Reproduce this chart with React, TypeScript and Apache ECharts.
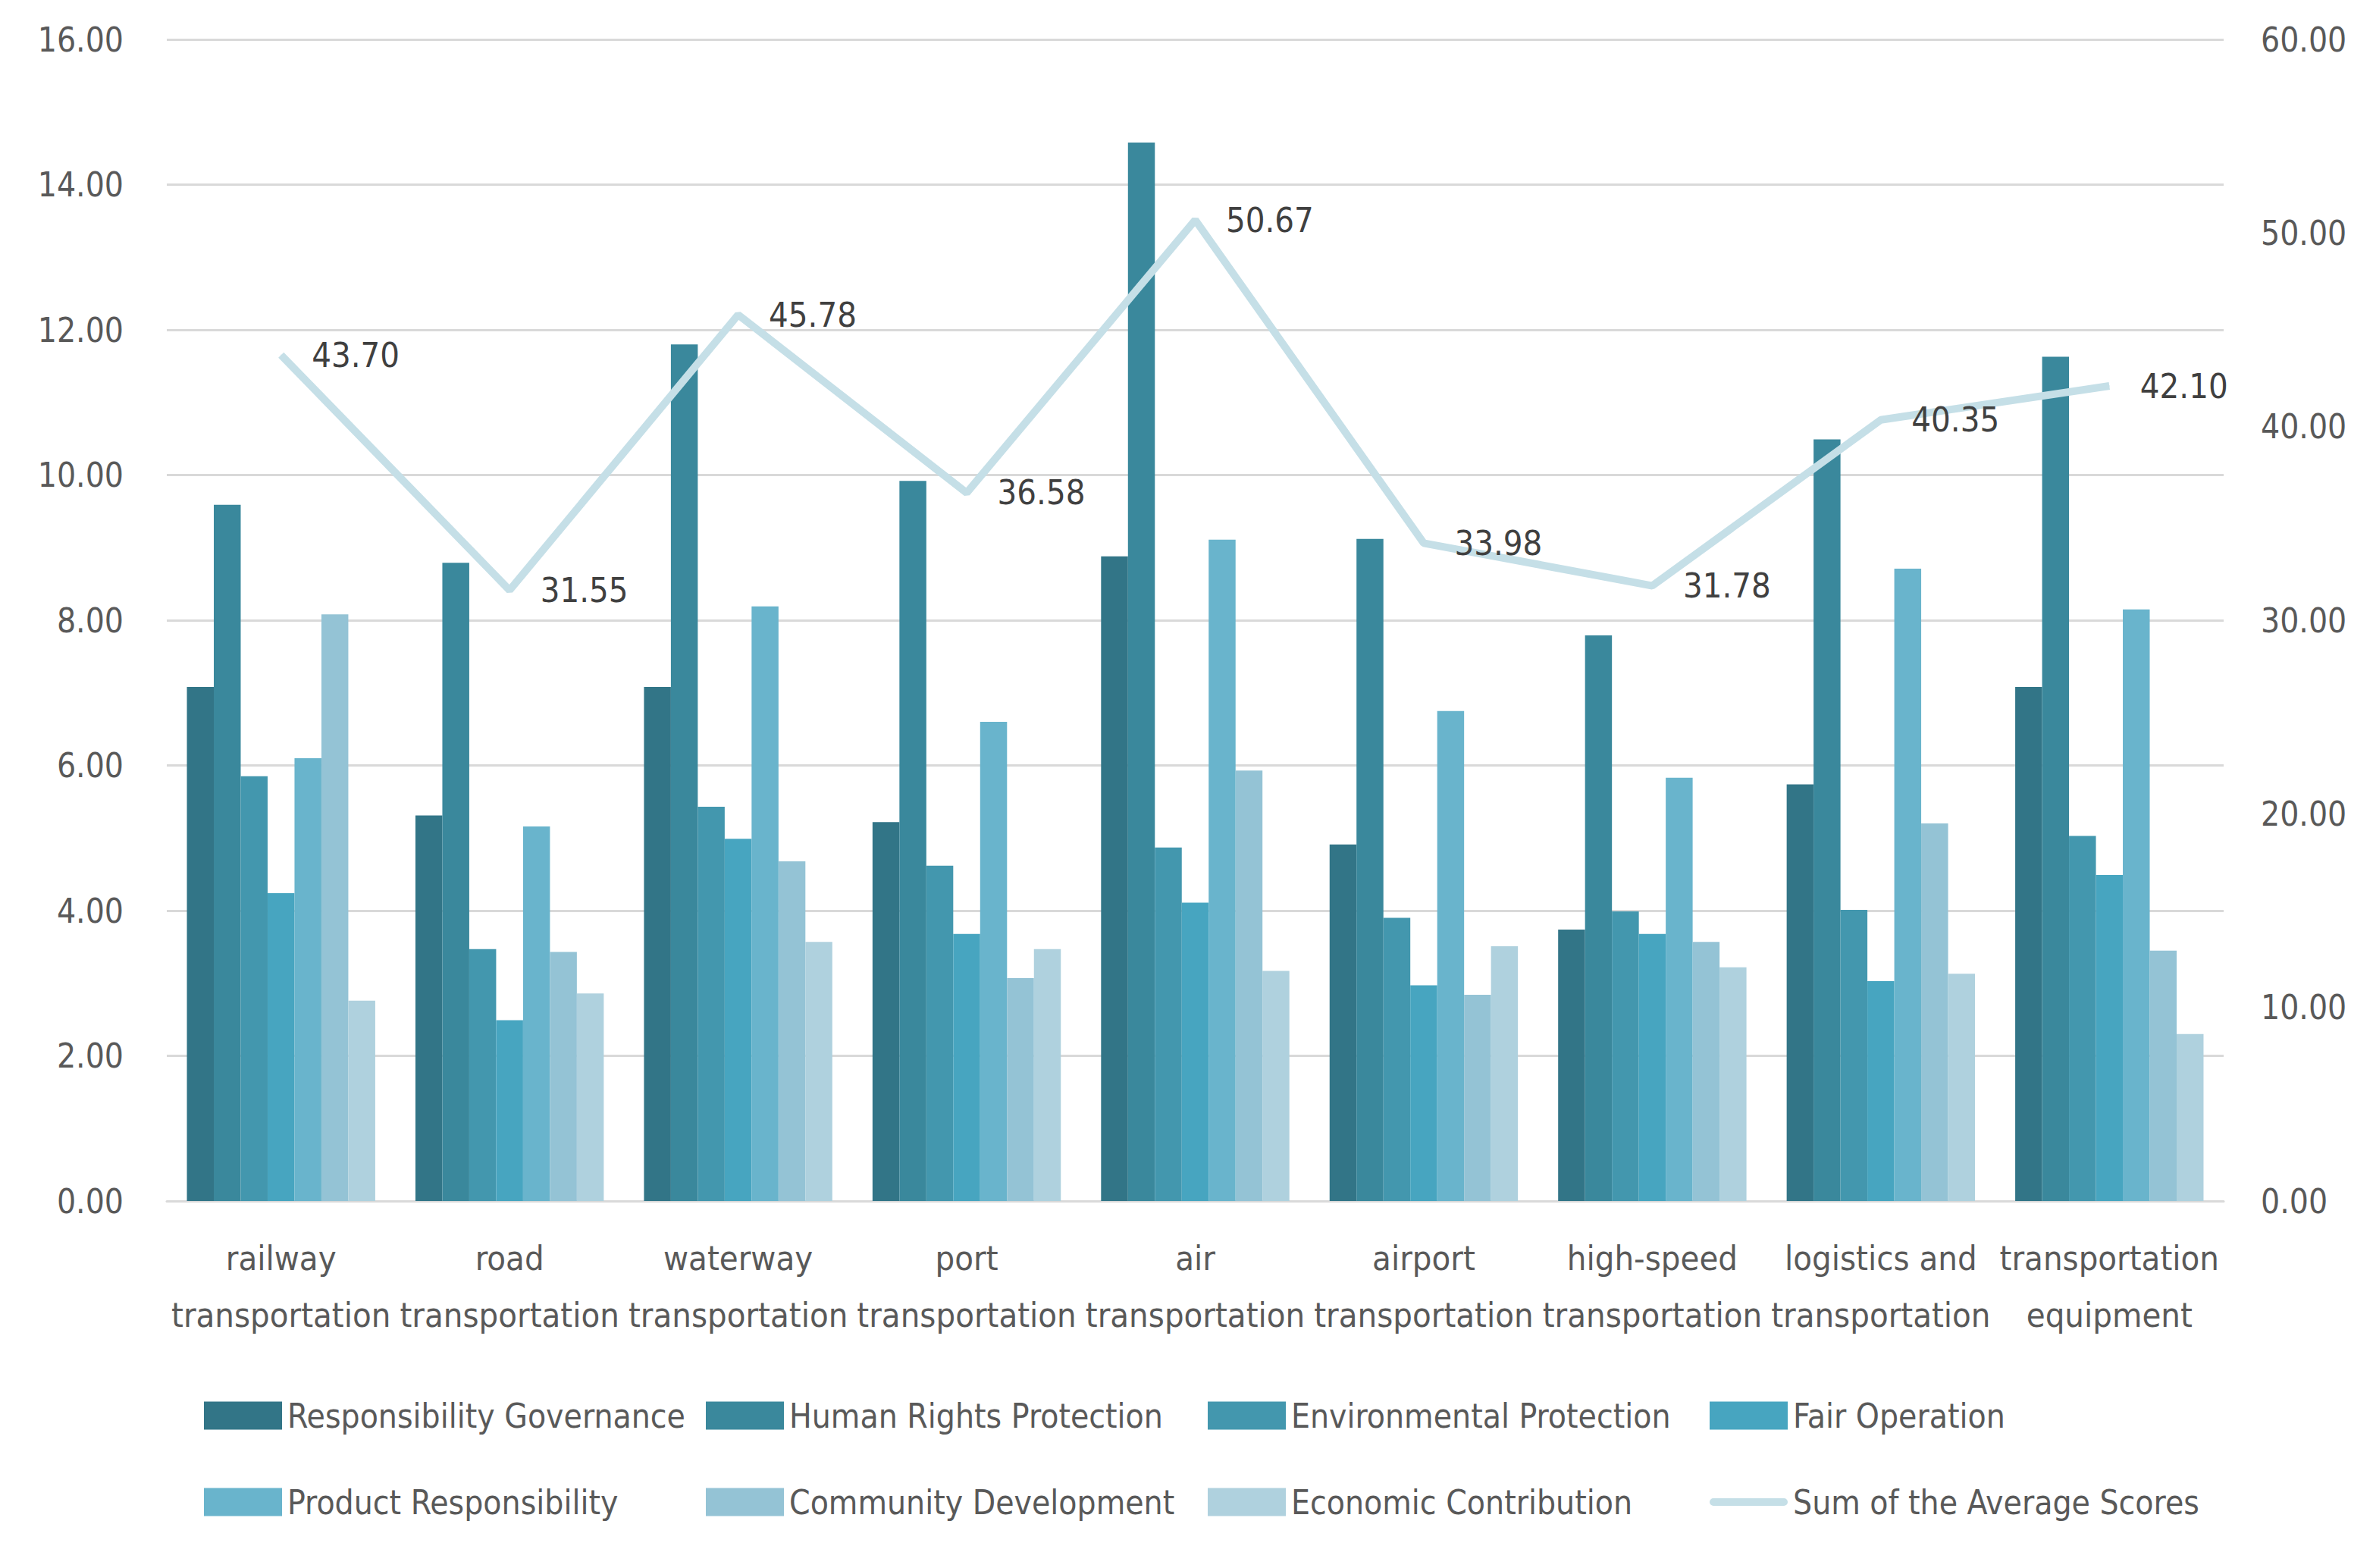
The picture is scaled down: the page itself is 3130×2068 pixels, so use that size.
import React, { useEffect, useRef } from "react";
import * as echarts from "echarts";

const categories = [
  "railway\ntransportation",
  "road\ntransportation",
  "waterway\ntransportation",
  "port\ntransportation",
  "air\ntransportation",
  "airport\ntransportation",
  "high-speed\ntransportation",
  "logistics and\ntransportation",
  "transportation\nequipment",
];

const responsibilityGovernance = [7.08, 5.31, 7.08, 5.22, 8.88, 4.91, 3.74, 5.74, 7.08];
const humanRightsProtection = [9.59, 8.79, 11.8, 9.92, 14.58, 9.12, 7.79, 10.49, 11.63];
const environmentalProtection = [5.85, 3.47, 5.43, 4.62, 4.87, 3.9, 3.99, 4.01, 5.03];
const fairOperation = [4.24, 2.49, 4.99, 3.68, 4.11, 2.97, 3.68, 3.03, 4.49];
const productResponsibility = [6.1, 5.16, 8.19, 6.6, 9.11, 6.75, 5.83, 8.71, 8.15];
const communityDevelopment = [8.08, 3.43, 4.68, 3.07, 5.93, 2.84, 3.57, 5.2, 3.45];
const economicContribution = [2.76, 2.86, 3.57, 3.47, 3.17, 3.51, 3.22, 3.13, 2.3];
const sumOfAverageScores = [43.7, 31.55, 45.78, 36.58, 50.67, 33.98, 31.78, 40.35, 42.1];

const barSeriesNames = [
  "Responsibility Governance",
  "Human Rights Protection",
  "Environmental Protection",
  "Fair Operation",
  "Product Responsibility",
  "Community Development",
  "Economic Contribution",
];
const lineSeriesName = "Sum of the Average Scores";

const barColors = ["#327587", "#3a889c", "#4397ae", "#47a5c0", "#69b4cc", "#94c3d5", "#afd1de"];
const lineColor = "#c5dfe7";

const FONT = "'DejaVu Sans Condensed', 'DejaVu Sans', sans-serif";

export default function App() {
  const ref = useRef<HTMLDivElement>(null);

  useEffect(() => {
    document.body.style.margin = "0";
    if (!ref.current) return;
    const chart = echarts.init(ref.current, undefined, { renderer: "svg" });
    const barData = [
      responsibilityGovernance,
      humanRightsProtection,
      environmentalProtection,
      fairOperation,
      productResponsibility,
      communityDevelopment,
      economicContribution,
    ];
    const legendText = {
      fontFamily: FONT,
      fontSize: 44,
      color: "#595959",
      lineHeight: 60,
      padding: [0, 0, 0, 2],
    };
    const lineIcon = "path://M5 0H98A5 5 0 0 1 98 10H5A5 5 0 0 1 5 0Z";
    const bar = (name: string) => ({ name, icon: "rect" });
    const legendCols: any[] = [
      [bar(barSeriesNames[0]), bar(barSeriesNames[4])],
      [bar(barSeriesNames[1]), bar(barSeriesNames[5])],
      [bar(barSeriesNames[2]), bar(barSeriesNames[6])],
      [bar(barSeriesNames[3]), { name: lineSeriesName, icon: lineIcon }],
    ];
    const legendLefts = [264, 926, 1588, 2250];
    const option: any = {
      animation: false,
      backgroundColor: "#ffffff",
      textStyle: { fontFamily: FONT },
      grid: { left: 220, right: 3130 - 2933, top: 52, bottom: 2068 - 1584, containLabel: false },
      legend: legendCols.map((cols, i) => ({
        data: cols,
        orient: "vertical",
        left: legendLefts[i],
        top: 1832,
        itemWidth: 103,
        itemHeight: 37,
        itemGap: 54,
        textStyle: legendText,
        selectedMode: false,
      })),
      xAxis: {
        type: "category",
        data: categories,
        axisLine: { lineStyle: { color: "#d9d9d9", width: 3 } },
        axisTick: { show: false },
        axisLabel: {
          interval: 0,
          fontFamily: FONT,
          fontSize: 45,
          color: "#595959",
          lineHeight: 75,
          margin: 38,
        },
      },
      yAxis: [
        {
          type: "value",
          min: 0,
          max: 16,
          interval: 2,
          axisLine: { show: false },
          axisTick: { show: false },
          splitLine: { lineStyle: { color: "#d9d9d9", width: 3 } },
          axisLabel: {
            fontFamily: FONT,
            fontSize: 44,
            color: "#595959",
            margin: 57,
            formatter: (v: number) => v.toFixed(2),
          },
        },
        {
          type: "value",
          min: 0,
          max: 60,
          interval: 10,
          position: "right",
          axisLine: { show: false },
          axisTick: { show: false },
          splitLine: { show: false },
          axisLabel: {
            fontFamily: FONT,
            fontSize: 44,
            color: "#595959",
            margin: 49,
            formatter: (v: number) => v.toFixed(2),
          },
        },
      ],
      series: [
        ...barSeriesNames.map((name, i) => ({
          name,
          type: "bar",
          data: barData[i],
          barGap: "0%",
          barCategoryGap: "17.6%",
          itemStyle: { color: barColors[i] },
          yAxisIndex: 0,
        })),
        {
          name: lineSeriesName,
          type: "line",
          data: sumOfAverageScores,
          yAxisIndex: 1,
          symbol: "circle",
          symbolSize: 1,
          showSymbol: true,
          z: 10,
          lineStyle: { color: lineColor, width: 10 },
          itemStyle: { color: lineColor },
          label: {
            show: true,
            position: "right",
            distance: 40,
            fontFamily: FONT,
            fontSize: 45,
            color: "#404040",
            formatter: (p: any) => Number(p.value).toFixed(2),
          },
        },
      ],
    };
    chart.setOption(option);
    return () => chart.dispose();
  }, []);

  return <div ref={ref} style={{ width: 3130, height: 2068 }} />;
}
